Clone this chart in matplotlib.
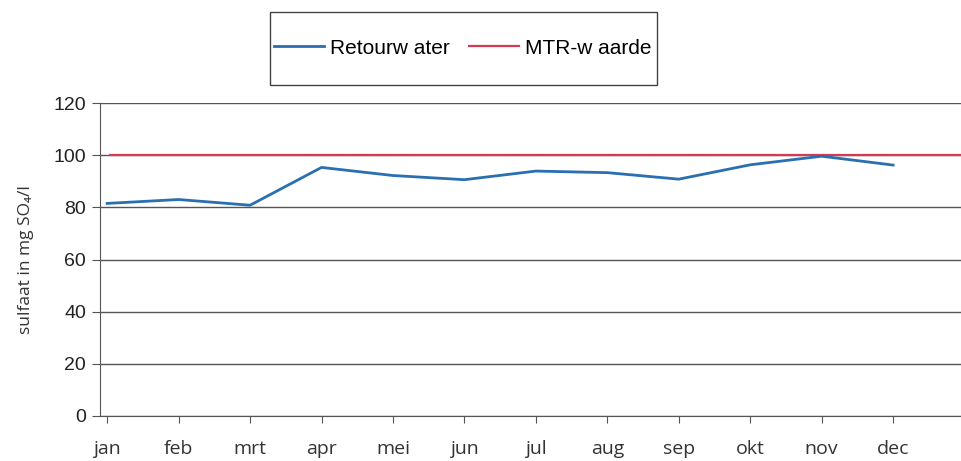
import matplotlib.pyplot as plt
from matplotlib.patches import Rectangle

months = ["jan", "feb", "mrt", "apr", "mei", "jun", "jul", "aug", "sep", "okt", "nov", "dec"]
retourwater = [81.5, 83.0, 80.8, 95.3, 92.2, 90.6, 93.9, 93.3, 90.8, 96.3, 99.6, 96.2]
mtr_waarde = 100
y_ticks = [0, 20, 40, 60, 80, 100, 120]

plt.rcParams['font.family'] = ['Liberation Sans', 'DejaVu Sans']

fig = plt.figure(figsize=(9.61, 4.61), dpi=100)
ax = fig.add_axes([100 / 961, 1 - 416 / 461, 1 - 100 / 961, (416 - 103) / 461])

x = list(range(len(months)))
ax.plot(x, retourwater, color="#2a6fb0", lw=2.0, label="Retourw ater", zorder=3)
ax.axhline(mtr_waarde, xmin=0.012, color="#d23a55", lw=1.6, label="MTR-w aarde", zorder=2)

ax.set_xlim(-0.1, 11.95)
ax.set_ylim(0, 120)
ax.set_yticks(y_ticks)
ax.set_xticks(x)
ax.set_xticklabels(months, family=['Open Sans', 'DejaVu Sans'], fontsize=14, color="#333333")
ax.tick_params(axis='y', labelsize=14, length=6, color="#555555", labelcolor="#222222", pad=4)
ax.tick_params(axis='x', length=5, color="#555555", pad=12)
ax.grid(axis='y', color="#555555", lw=1.0)
ax.set_axisbelow(True)

for side in ["top", "right"]:
    ax.spines[side].set_visible(False)
ax.spines["left"].set_color("#555555")
ax.spines["bottom"].set_color("#555555")

ax.set_ylabel("sulfaat in mg SO₄/l", family=['Open Sans', 'DejaVu Sans'], fontsize=12.5,
              color="#333333", labelpad=14)

# legend without its own frame, boxed by a separate rectangle like the original
leg = fig.legend(loc="center", bbox_to_anchor=(463 / 961, 1 - 48 / 461), ncol=2,
                 fontsize=15, frameon=False, handlelength=2.4,
                 columnspacing=0.9, handletextpad=0.3)
fig.patches.append(Rectangle((270 / 961, 1 - 85 / 461), 387 / 961, 73 / 461,
                             transform=fig.transFigure, fill=False,
                             edgecolor="#444444", lw=1.0))

fig.savefig("out.png", dpi=100)
